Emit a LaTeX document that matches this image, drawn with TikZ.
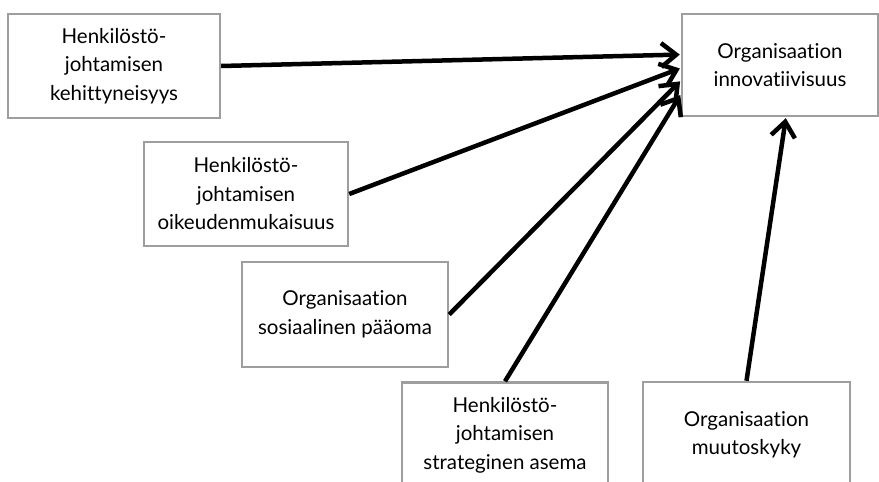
\documentclass[tikz,border=0pt]{standalone}
\usepackage{fontspec}
\setmainfont{Lato}[Ligatures=NoCommon]
\usetikzlibrary{arrows.meta,calc}
\tikzset{
  box/.style={draw=black!38, line width=2.4pt, fill=white, align=center,
    inner sep=0pt, text=black,
    font=\fontsize{20.5}{28.5}\selectfont},
  link/.style={line width=4.5pt, -{Straight Barb[length=15pt,width=24pt]}, shorten >=1pt}
}
\begin{document}
\begin{tikzpicture}[x=1pt,y=-1pt]
\useasboundingbox (0,0) rectangle (879,482);
\clip (0,0) rectangle (879,482);
\node[box, minimum width=212pt, minimum height=104pt] (kehit) at (114,66)
  {Henkilöstö-\\johtamisen\\kehittyneisyys};
\node[box, minimum width=196pt, minimum height=102pt] (innov) at (780,65)
  {Organisaation\\innovatiivisuus};
\node[box, minimum width=204pt, minimum height=104pt] (oikeus) at (246,194)
  {Henkilöstö-\\johtamisen\\oikeudenmukaisuus};
\node[box, minimum width=206pt, minimum height=105pt] (sosiaal) at (345,314.5)
  {Organisaation\\sosiaalinen pääoma};
\node[box, minimum width=206pt, minimum height=105pt] (strateg) at (505,435)
  {Henkilöstö-\\johtamisen\\strateginen asema};
\node[box, minimum width=207pt, minimum height=106pt] (muutos) at (746.5,435)
  {Organisaation\\muutoskyky};
\draw[link] (kehit.east) -- ($(innov.north west)!0.40!(innov.south west)$);
\draw[link] (oikeus.east) -- ($(innov.north west)!0.53!(innov.south west)$);
\draw[link] (sosiaal.east) -- ($(innov.north west)!0.65!(innov.south west)$);
\draw[link] (strateg.north) -- ($(innov.north west)!0.78!(innov.south west)$);
\draw[link] (muutos.north) -- ($(innov.south west)!0.53!(innov.south east)$);
\end{tikzpicture}
\end{document}
